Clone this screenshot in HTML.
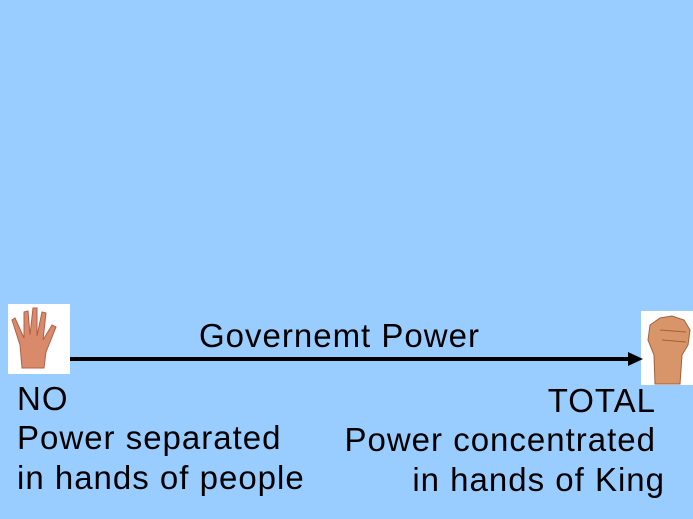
<!DOCTYPE html>
<html><head><meta charset="utf-8"><style>
html,body{margin:0;padding:0}
body{width:693px;height:519px;background:#99CCFF;position:relative;overflow:hidden;font-family:"Liberation Sans",Arial,sans-serif;color:#000}
.t{position:absolute;font-size:33px;line-height:40px;white-space:nowrap;letter-spacing:1px}
</style></head><body>
<svg width="693" height="519" style="position:absolute;left:0;top:0">
  <rect x="8" y="304" width="62" height="70" fill="#fff"/>
  <g fill="#d98a6a" stroke="#b0604a" stroke-width="1">
    <path d="M22 368 L20 345 L12 320 L15 318 L24 338 L24 312 L28 311 L30 335 L33 308 L37 308 L37 336 L42 312 L46 313 L43 340 L52 325 L56 327 L46 352 L44 368 Z"/>
  </g>
  <rect x="641" y="311" width="52" height="74" fill="#fff"/>
  <g fill="#d9956a" stroke="#a0603a" stroke-width="1">
    <path d="M655 384 L654 355 L648 340 L650 325 L660 318 L672 316 L684 320 L690 330 L688 345 L682 355 L680 384 Z"/>
    <path d="M660 330 L686 332 M662 340 L686 342" fill="none"/>
  </g>
  <line x1="70" y1="359" x2="632" y2="359" stroke="#000" stroke-width="4"/>
  <polygon points="628,352 643,359 628,366" fill="#000"/>
</svg>
<div class="t" style="left:199px;top:316px">Governemt Power</div>
<div class="t" style="left:17px;top:379px">NO</div>
<div class="t" style="left:17px;top:418px">Power separated</div>
<div class="t" style="left:17px;top:458px">in hands of people</div>
<div class="t" style="right:37px;top:381px">TOTAL</div>
<div class="t" style="right:37px;top:420px">Power concentrated</div>
<div class="t" style="right:28px;top:460px">in hands of King</div>
</body></html>
